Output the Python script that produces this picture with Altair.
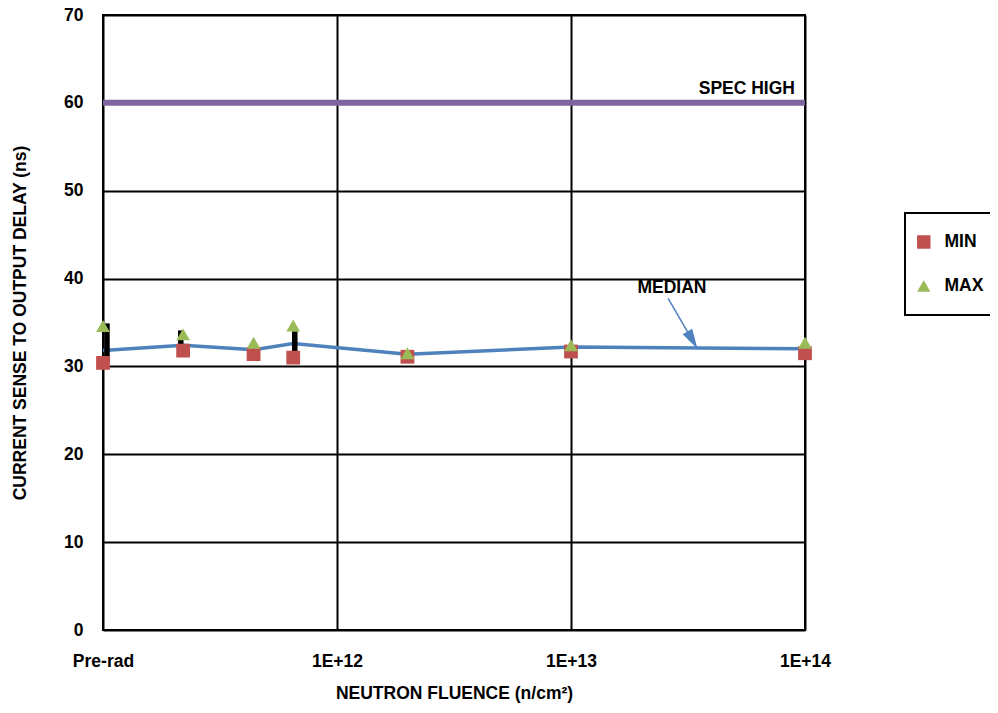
import altair as alt
import pandas as pd

# ---- data ----
fluence = [1e11, 2.2e11, 4.4e11, 6.5e11, 2e12, 1e13, 1e14]
min_ns = [30.4, 31.8, 31.4, 31.0, 31.1, 31.7, 31.5]
max_ns = [34.6, 33.65, 32.7, 34.65, 31.5, 32.4, 32.7]
median_ns = [31.8, 32.4, 31.9, 32.6, 31.4, 32.2, 32.0]

bar_fluence = [1.04e11, 2.15e11, 6.6e11]
bar_low = [30.5, 32.0, 31.7]
bar_high = [34.9, 34.1, 34.0]

spec_high = [60]
spec_label = ["SPEC HIGH"]

x_ticks = [1e11, 1e12, 1e13, 1e14]
x_tick_labels = ["Pre-rad", "1E+12", "1E+13", "1E+14"]
y_ticks = [0, 10, 20, 30, 40, 50, 60, 70]

median_label = ["MEDIAN"]
median_label_pos = [2.7e13, 38.4]
arrow_start = [2.6e13, 37.75]
arrow_tip = [3.47e13, 32.0]

# ---- colours ----
RED = "#C0504D"
GREEN = "#9BBB59"
BLUE = "#4F81BD"
PURPLE = "#8064A2"
FONT = "Liberation Sans"
FS = 17.5

# ---- tables ----
pts = pd.DataFrame({
    "fluence": fluence + fluence,
    "ns": min_ns + max_ns,
    "series": ["MIN"] * len(fluence) + ["MAX"] * len(fluence),
})
med = pd.DataFrame({"fluence": fluence, "ns": median_ns})
bars = pd.DataFrame({"fluence": bar_fluence, "lo": bar_low, "hi": bar_high})
spec = pd.DataFrame({"fluence": [x_ticks[-1]], "ns": spec_high, "label": spec_label})
mlab = pd.DataFrame({"fluence": [median_label_pos[0]], "ns": [median_label_pos[1]], "label": median_label})
arrow = pd.DataFrame({"fluence": [arrow_start[0]], "ns": [arrow_start[1]],
                      "fluence2": [arrow_tip[0]], "ns2": [arrow_tip[1]]})
tip = pd.DataFrame({"fluence": [arrow_tip[0]], "ns": [arrow_tip[1]]})

label_expr = "[" + ",".join("'%s'" % s for s in x_tick_labels) + "][round(log(datum.value)/LN10) - 11]"

x_scale = alt.Scale(type="log", domain=[x_ticks[0], x_ticks[-1]], nice=False)
y_scale = alt.Scale(domain=[0, 70], nice=False)

x_axis = alt.Axis(values=x_ticks, labelExpr=label_expr, title="NEUTRON FLUENCE (n/cm²)",
                  grid=True, ticks=False, tickSize=0, domain=False,
                  labelPadding=36, labelBaseline="alphabetic", labelFlush=False, labelOverlap=False,
                  titleX=351, titleY=68, titleBaseline="alphabetic", titleAlign="center")
y_axis = alt.Axis(values=y_ticks, title="CURRENT SENSE TO OUTPUT DELAY (ns)",
                  grid=True, ticks=False, tickSize=0, domain=False,
                  labelPadding=20, labelFlush=False, labelOverlap=False,
                  titleX=-78, titleY=307.5, titleAngle=270, titleBaseline="alphabetic", titleAlign="center")


def X(field):
    return alt.X(field, type="quantitative", scale=x_scale, axis=x_axis)


def Y(field):
    return alt.Y(field, type="quantitative", scale=y_scale, axis=y_axis)


spec_line = alt.Chart(spec).mark_rule(color=PURPLE, strokeWidth=6).encode(y=Y("ns"))
spec_text = alt.Chart(spec).mark_text(align="right", baseline="alphabetic", dx=-10, dy=-8.5,
                                      font=FONT, fontSize=FS, fontWeight="bold", color="black").encode(
    x=X("fluence"), y=Y("ns"), text="label:N")

med_line = alt.Chart(med).mark_line(color=BLUE, strokeWidth=3.5).encode(x=X("fluence"), y=Y("ns"))

bar_rules = alt.Chart(bars).mark_rule(color="black", strokeWidth=5.5).encode(
    x=X("fluence"), y=Y("lo"), y2="hi")

legend = alt.Legend(title=None, orient="none", legendX=802, legendY=198,
                    strokeColor="black", padding=10, rowPadding=6, clipHeight=38,
                    symbolSize=180, labelOffset=12)

points = alt.Chart(pts).mark_point(filled=True, opacity=1, strokeWidth=0, size=190).encode(
    x=X("fluence"), y=Y("ns"),
    color=alt.Color("series:N", scale=alt.Scale(domain=["MIN", "MAX"], range=[RED, GREEN]), legend=legend),
    shape=alt.Shape("series:N", scale=alt.Scale(domain=["MIN", "MAX"], range=["square", "triangle-up"]), legend=legend),
)

arrow_line = alt.Chart(arrow).mark_rule(color=BLUE, strokeWidth=1.5).encode(
    x=X("fluence"), y=Y("ns"), x2="fluence2", y2="ns2")
arrow_head = alt.Chart(tip).mark_point(shape="M0,0L0.55,2L-0.55,2Z", filled=True, size=400,
                                       angle=150, color=BLUE, opacity=1, strokeWidth=0).encode(
    x=X("fluence"), y=Y("ns"))
med_text = alt.Chart(mlab).mark_text(align="center", baseline="alphabetic", font=FONT, fontSize=FS,
                                     fontWeight="bold", color="black").encode(
    x=X("fluence"), y=Y("ns"), text="label:N")

chart = alt.layer(
    spec_line, med_line, bar_rules, points, arrow_line, arrow_head, med_text, spec_text
).properties(
    width=702, height=615,
    autosize="none",
    padding={"left": 95, "top": 7, "right": 185, "bottom": 75},
).configure(font=FONT).configure_view(
    stroke="black", strokeWidth=2
).configure_axis(
    labelFont=FONT, labelFontSize=FS, labelFontWeight="bold", labelColor="black",
    titleFont=FONT, titleFontSize=FS, titleFontWeight="bold", titleColor="black",
    gridColor="black", gridWidth=2, gridOpacity=1,
).configure_legend(
    strokeWidth=2,
    labelFont=FONT, labelFontSize=FS, labelFontWeight="bold", labelColor="black",
)

chart.save("out.html", embed_options={"renderer": "svg", "actions": False})
